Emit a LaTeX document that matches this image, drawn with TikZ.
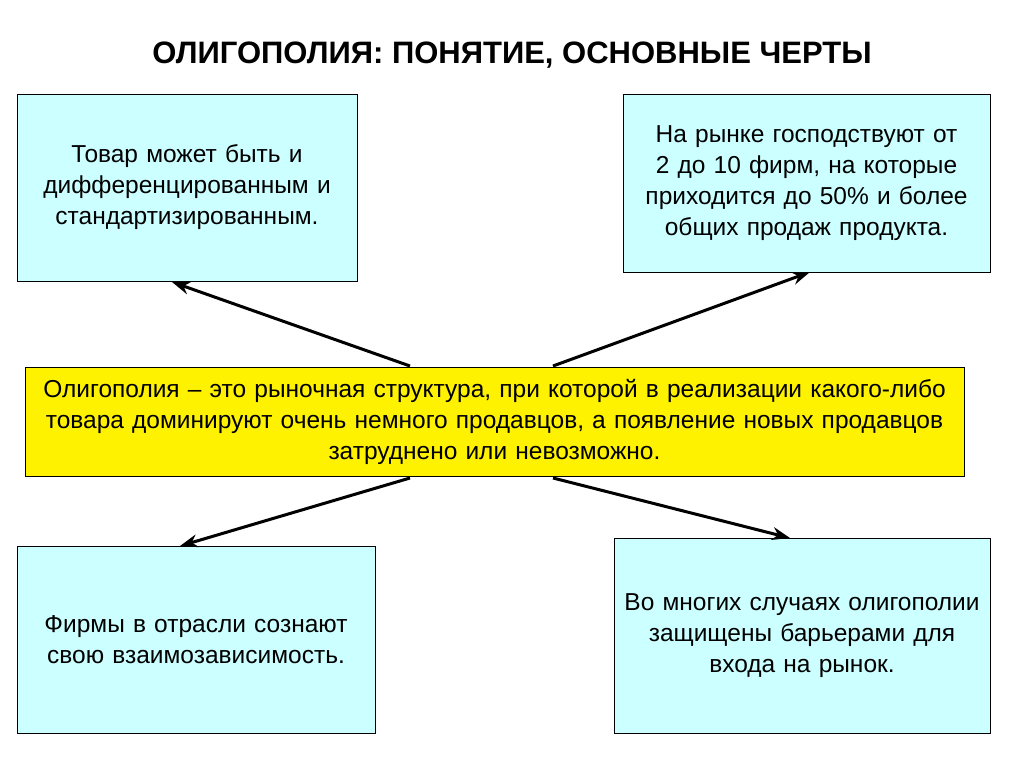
\documentclass[tikz,border=0pt]{standalone}
\usepackage{fontspec}
\setmainfont{Liberation Sans}
\usetikzlibrary{arrows.meta}
\definecolor{boxcyan}{HTML}{CCFFFF}
\tikzstyle{featbox} = [draw=black,line width=1pt,fill=boxcyan,align=center,font=\fontsize{24.5}{31}\selectfont,inner sep=0pt]
\tikzstyle{defbox} = [draw=black,line width=1pt,fill=yellow,align=center,font=\fontsize{24.5}{31}\selectfont,inner sep=0pt]
\tikzstyle{link} = [-{Stealth[length=18pt,width=13pt]},line width=3pt]

\begin{document}
\begin{tikzpicture}[x=1pt,y=-1pt]
	\useasboundingbox (0,0) rectangle (1024,768);
	\fill[white] (0,0) rectangle (1024,768);

	\node (title) at (512,55) {\fontsize{31}{34}\selectfont\bfseries ОЛИГОПОЛИЯ: ПОНЯТИЕ, ОСНОВНЫЕ ЧЕРТЫ};

	\node (tl) [featbox,minimum width=340pt,minimum height=187pt,text width=336pt] at (187,187.5)
		{Товар может быть и\\дифференцированным и\\стандартизированным.};
	\node (tr) [featbox,minimum width=367pt,minimum height=178pt,text width=363pt] at (806.5,183)
		{На рынке господствуют от\\2 до 10 фирм, на которые\\приходится до 50\% и более\\общих продаж продукта.};
	\node (def) [defbox,minimum width=939pt,minimum height=109pt,text width=937pt] at (494.5,421.5)
		{Олигополия -- это рыночная структура, при которой в реализации какого-либо\\товара доминируют очень немного продавцов, а появление новых продавцов\\затруднено или невозможно.};
	\node (bl) [featbox,minimum width=358pt,minimum height=187pt,text width=354pt] at (196,639.5)
		{Фирмы в отрасли сознают\\свою взаимозависимость.};
	\node (br) [featbox,minimum width=376pt,minimum height=195pt,text width=372pt] at (802,635.5)
		{Во многих случаях олигополии\\защищены барьерами для\\входа на рынок.};

	\coordinate (dtl) at (410,366);
	\coordinate (dtr) at (553,366);
	\coordinate (dbl) at (410,478);
	\coordinate (dbr) at (553,478);
	\coordinate (atl) at (172,282);
	\coordinate (atr) at (810,272);
	\coordinate (abl) at (180,546);
	\coordinate (abr) at (790,538);

	\draw[link] (dtl) -- (atl);
	\draw[link] (dtr) -- (atr);
	\draw[link] (dbl) -- (abl);
	\draw[link] (dbr) -- (abr);
\end{tikzpicture}
\end{document}
